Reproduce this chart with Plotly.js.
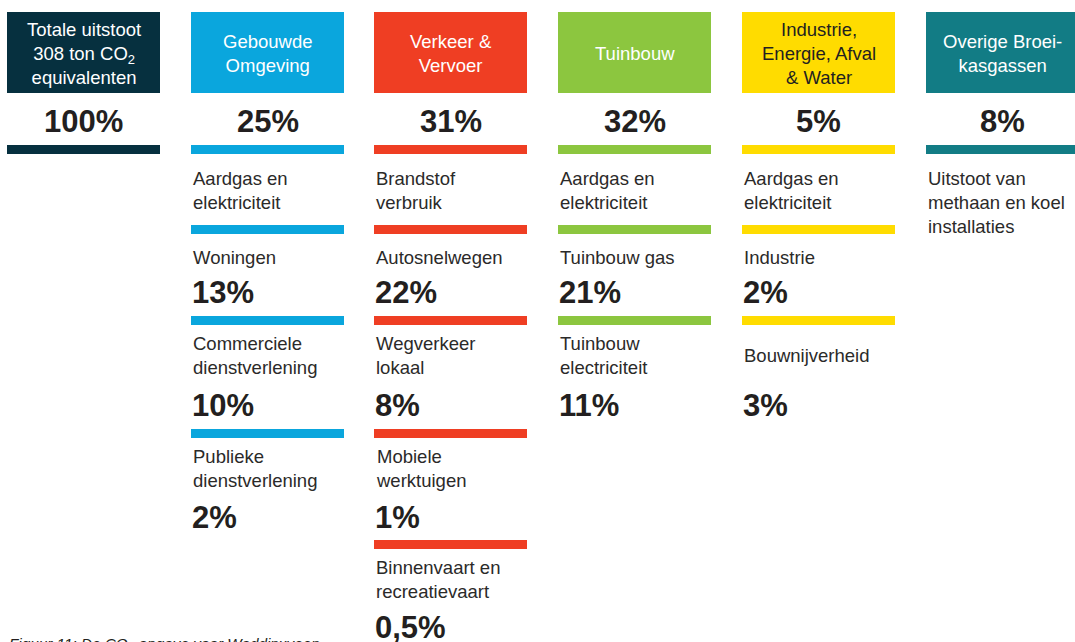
<!DOCTYPE html>
<html>
<head>
<meta charset="utf-8">
<script src="https://cdn.plot.ly/plotly-3.0.1.min.js"></script>
<style>
  html, body { margin: 0; padding: 0; background: #ffffff; }
  #graphDiv { width: 1075px; height: 642px; }
</style>
</head>
<body>
<div id="graphDiv"></div>
<script>
// hoofdcategorieen
const categories = [
    'Totale uitstoot<br>308 ton CO<sub>2</sub><br>equivalenten',
    'Gebouwde<br>Omgeving',
    'Verkeer &<br>Vervoer',
    'Tuinbouw',
    'Industrie,<br>Energie, Afval<br>& Water',
    'Overige Broei-<br>kasgassen'
];
const shares = [100, 25, 31, 32, 5, 8];

// eerste regel onder elke kolom
const subHeads = [
    '',
    'Aardgas en<br>elektriciteit',
    'Brandstof<br>verbruik',
    'Aardgas en<br>elektriciteit',
    'Aardgas en<br>elektriciteit',
    'Uitstoot van<br>methaan en koel<br>installaties'
];

// subcategorieen per kolom
const subLabels = [
    [],
    ['Woningen', 'Commerciele<br>dienstverlening', 'Publieke<br>dienstverlening'],
    ['Autosnelwegen', 'Wegverkeer<br>lokaal', 'Mobiele<br>werktuigen', 'Binnenvaart en<br>recreatievaart'],
    ['Tuinbouw gas', 'Tuinbouw<br>electriciteit'],
    ['Industrie', 'Bouwnijverheid'],
    []
];
const subShares = [
    [],
    [13, 10, 2],
    [22, 8, 1, 0.5],
    [21, 11],
    [2, 3],
    []
];

const caption = 'Figuur 11: De CO<sub>2</sub>-opgave voor Waddinxveen';

// kleuren per kolom
const colors = ['#06303f', '#0aa6dd', '#ef3e23', '#8cc63f', '#ffdc00', '#127c85'];
const headTextColors = ['#ffffff', '#ffffff', '#ffffff', '#ffffff', '#231f20', '#ffffff'];

// layout maten (pixels)
const colX = [7, 191, 374, 558, 742, 926];
const colW = 153;
const rowLabelY = [257, 355, 468, 579];
const rowPctY = [292, 405, 517, 627];
const rowBarY = [225, 316, 429, 540];
const barH = 9;

const FONT = 'Liberation Sans, Arial, Helvetica, sans-serif';
const TXT = '#2b2a29';

function fmt(v) {
    return String(v).replace('.', ',') + '%';
}

let shapes = [];
let annotations = [];

for (let i = 0; i < categories.length; i++) {
    let x0 = colX[i];
    let x1 = Math.min(x0 + colW, 1075);
    // kop blok
    shapes.push({type: 'rect', xref: 'x', yref: 'y', x0: x0, x1: x1, y0: 12, y1: 93,
        fillcolor: colors[i], line: {width: 0}, layer: 'below'});
    annotations.push({x: x0 + colW / 2, y: 53, xref: 'x', yref: 'y', text: categories[i],
        showarrow: false, xanchor: 'center', yanchor: 'middle', align: 'center', borderpad: 0,
        font: {family: FONT, size: 18.5, color: headTextColors[i]}});
    // totaal percentage
    annotations.push({x: x0 + colW / 2, y: 121, xref: 'x', yref: 'y', text: '<b>' + fmt(shares[i]) + '</b>',
        showarrow: false, xanchor: 'center', yanchor: 'middle', borderpad: 0,
        font: {family: FONT, size: 31, color: '#231f20'}});
    shapes.push({type: 'rect', xref: 'x', yref: 'y', x0: x0, x1: x1, y0: 145, y1: 145 + barH,
        fillcolor: colors[i], line: {width: 0}});
    // eerste regel
    if (subHeads[i] != '') {
        annotations.push({x: x0 + 1, y: 167, xref: 'x', yref: 'y', text: subHeads[i],
            showarrow: false, xanchor: 'left', yanchor: 'top', align: 'left', borderpad: 0,
            font: {family: FONT, size: 18.5, color: TXT}});
    }
    // subcategorieen
    for (let j = 0; j < subLabels[i].length; j++) {
        shapes.push({type: 'rect', xref: 'x', yref: 'y', x0: x0, x1: x1, y0: rowBarY[j], y1: rowBarY[j] + barH,
            fillcolor: colors[i], line: {width: 0}});
        annotations.push({x: x0 + 1, y: rowLabelY[j], xref: 'x', yref: 'y', text: subLabels[i][j],
            showarrow: false, xanchor: 'left', yanchor: 'middle', align: 'left', borderpad: 0,
            font: {family: FONT, size: 18.5, color: TXT}});
        annotations.push({x: x0, y: rowPctY[j], xref: 'x', yref: 'y', text: '<b>' + fmt(subShares[i][j]) + '</b>',
            showarrow: false, xanchor: 'left', yanchor: 'middle', align: 'left', borderpad: 0,
            font: {family: FONT, size: 31, color: '#231f20'}});
    }
}

// onderschrift (valt deels buiten beeld, zoals in het origineel)
annotations.push({x: 8, y: 634, xref: 'x', yref: 'y', text: '<i>' + caption + '</i>',
    showarrow: false, xanchor: 'left', yanchor: 'top', align: 'left', borderpad: 0,
    font: {family: FONT, size: 15.3, color: '#231f20'}});

var layout = {
    width: 1075,
    height: 642,
    margin: {l: 0, r: 0, t: 0, b: 0},
    paper_bgcolor: '#ffffff',
    plot_bgcolor: '#ffffff',
    showlegend: false,
    xaxis: {range: [0, 1075], visible: false, fixedrange: true},
    yaxis: {range: [642, 0], visible: false, fixedrange: true},
    shapes: shapes,
    annotations: annotations
};

Plotly.newPlot('graphDiv', [], layout, {displayModeBar: false, staticPlot: true});
</script>
</body>
</html>
